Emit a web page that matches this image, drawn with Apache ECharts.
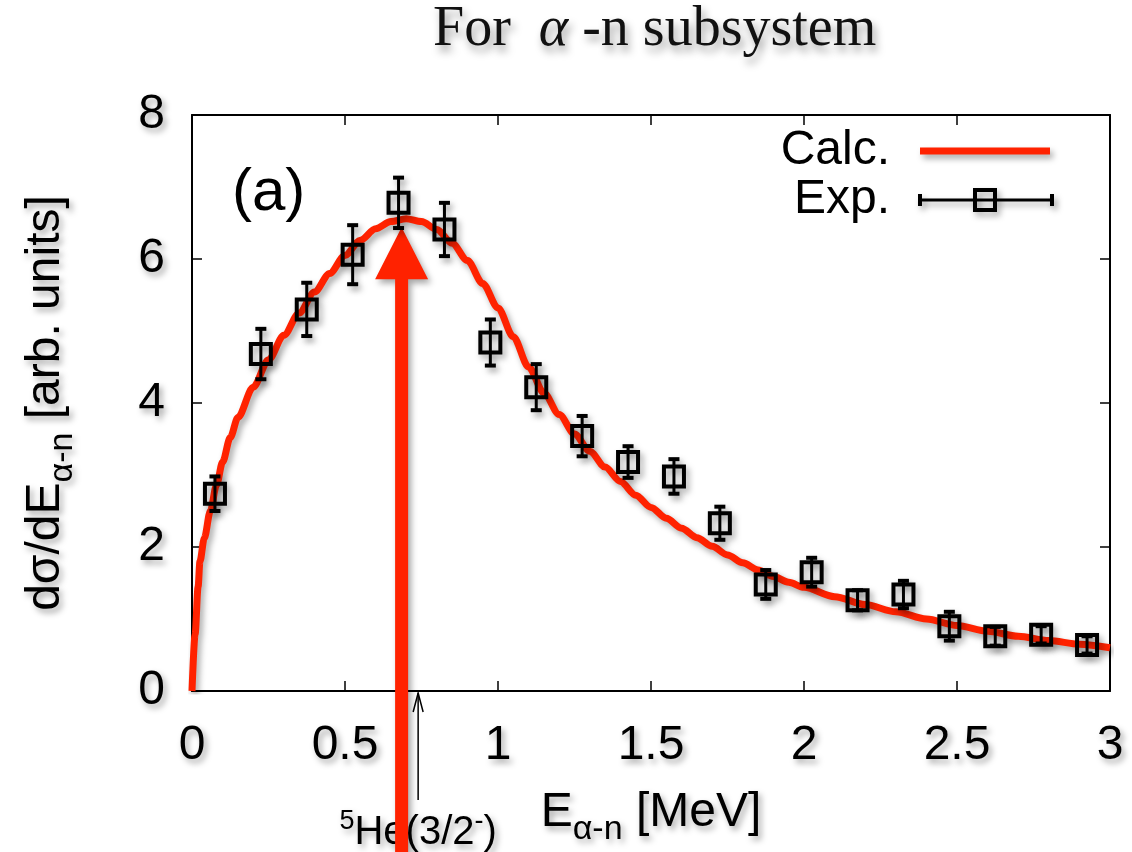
<!DOCTYPE html>
<html><head><meta charset="utf-8">
<script src="https://cdn.jsdelivr.net/npm/echarts@6/dist/echarts.min.js"></script>
<style>html,body{margin:0;padding:0;background:#fff}#c{width:1132px;height:852px}</style>
</head><body><div id="c"></div>
<script>
// ---- data ----
const expX   = [0.075, 0.225, 0.375, 0.525, 0.675, 0.825, 0.975, 1.125, 1.275, 1.425,
                1.575, 1.725, 1.875, 2.025, 2.175, 2.325, 2.475, 2.625, 2.775, 2.925];
const expY   = [2.74, 4.68, 5.30, 6.06, 6.78, 6.41, 4.84, 4.22, 3.54, 3.18,
                2.98, 2.33, 1.48, 1.65, 1.26, 1.34, 0.90, 0.76, 0.78, 0.64];
const expErr = [0.24, 0.35, 0.37, 0.41, 0.35, 0.37, 0.32, 0.32, 0.28, 0.22,
                0.24, 0.23, 0.20, 0.20, 0.14, 0.19, 0.20, 0.13, 0.12, 0.12];
const calcX  = [0, 0.01, 0.02, 0.026, 0.04, 0.06, 0.08, 0.1, 0.125, 0.15, 0.2, 0.25, 0.3, 0.35, 0.4, 0.45,
                0.5, 0.55, 0.6, 0.65, 0.7, 0.75, 0.8, 0.85, 0.9, 0.95, 1.0, 1.05, 1.1, 1.15, 1.2,
                1.25, 1.3, 1.35, 1.4, 1.45, 1.5, 1.55, 1.6, 1.65, 1.7, 1.75, 1.8, 1.85, 1.9, 1.95, 2.0,
                2.1, 2.2, 2.3, 2.4, 2.5, 2.6, 2.7, 2.8, 2.9, 3.0];
const calcY  = [0, 0.78, 1.45, 1.8, 2.12, 2.5, 2.86, 3.18, 3.52, 3.80, 4.22, 4.60, 4.94, 5.25, 5.54, 5.80,
                6.05, 6.26, 6.42, 6.52, 6.56, 6.52, 6.41, 6.22, 5.98, 5.66, 5.32, 4.92, 4.50, 4.14, 3.84,
                3.57, 3.33, 3.11, 2.91, 2.72, 2.55, 2.40, 2.26, 2.13, 2.01, 1.89, 1.78, 1.68, 1.59, 1.51, 1.44,
                1.31, 1.20, 1.10, 1.00, 0.91, 0.83, 0.76, 0.70, 0.65, 0.60];
// annotation positions (data units)
const peakArrow = [0.685, 6.44, 5.72];   // x, tip y, head-base y
const resonanceX = 0.739;                 // 5He(3/2-) marker
const xRange = [0, 3, 0.5];
const yRange = [0, 8, 2];

const RED = '#ff2200';
const FONT = 'Liberation Sans';
const SH = {shadowColor:'rgba(0,0,0,0.35)', shadowBlur:6, shadowOffsetX:3, shadowOffsetY:4};
const TSH = {textShadowColor:'rgba(0,0,0,0.35)', textShadowBlur:6, textShadowOffsetX:3, textShadowOffsetY:4};

const chart = echarts.init(document.getElementById('c'), null, {width:1132, height:852});

function frameAxis(extra){
  return Object.assign({
    type:'value', splitLine:{show:false},
    axisLine:{show:true, onZero:false, lineStyle:{color:'#000', width:2}},
    axisTick:{show:true, inside:true, length:10, lineStyle:{color:'#000', width:1.5}},
  }, extra);
}

const subRich = {
  m:{fontFamily:FONT, fontSize:48, color:'#000', verticalAlign:'bottom', lineHeight:56, padding:[0,0,10,0], ...TSH},
  s:{fontFamily:FONT, fontSize:34, color:'#000', verticalAlign:'bottom', lineHeight:40, padding:[0,0,0,0], ...TSH}
};
const titleStyle = {fontFamily:'Liberation Serif', fontWeight:'normal', fontSize:56, color:'#111', ...TSH,
  textShadowColor:'rgba(0,0,0,0.4)', textShadowBlur:8, textShadowOffsetY:6};

const option = {
  animation:false,
  backgroundColor:'#fff',
  title:{
    text:'{n|For  }{a|α}{n| -n subsystem}',
    left:428, top:-3,
    textStyle:{fontWeight:'normal', rich:{
      n:titleStyle,
      a:Object.assign({}, titleStyle, {fontStyle:'italic'})
    }}
  },
  grid:{left:192, right:22, top:115, bottom:159},
  xAxis:[
    frameAxis({min:xRange[0], max:xRange[1], interval:xRange[2], position:'bottom',
      axisLabel:{fontFamily:FONT, fontSize:48, color:'#000', margin:31, ...TSH},
      name:'{m|E}{s|α-n}{m| [MeV]}', nameLocation:'middle', nameGap:100,
      nameTextStyle:{rich:subRich}}),
    frameAxis({min:xRange[0], max:xRange[1], interval:xRange[2], position:'top', axisLabel:{show:false}})
  ],
  yAxis:[
    frameAxis({min:yRange[0], max:yRange[1], interval:yRange[2], position:'left',
      axisLabel:{fontFamily:FONT, fontSize:48, color:'#000', margin:27, ...TSH},
      name:'{m|dσ/dE}{s|α-n}{m| [arb. units]}', nameLocation:'middle', nameGap:112, nameRotate:90,
      nameTextStyle:{rich:subRich}}),
    frameAxis({min:yRange[0], max:yRange[1], interval:yRange[2], position:'right', axisLabel:{show:false}})
  ],
  graphic:[
    {type:'text', z:20, style:{x:232, y:193, text:'(a)', font:'60px "Liberation Sans"', fill:'#000', textVerticalAlign:'middle', verticalAlign:'middle', ...SH}},
    {type:'text', z:20, style:{x:890, y:151, text:'Calc.', font:'48px "Liberation Sans"', fill:'#000', textAlign:'right', align:'right', textVerticalAlign:'middle', verticalAlign:'middle', ...SH}},
    {type:'line', z:20, shape:{x1:920, y1:151, x2:1050, y2:151}, style:{stroke:RED, lineWidth:7, ...SH}},
    {type:'text', z:20, style:{x:890, y:200, text:'Exp.', font:'48px "Liberation Sans"', fill:'#000', textAlign:'right', align:'right', textVerticalAlign:'middle', verticalAlign:'middle', ...SH}},
    {type:'line', z:20, shape:{x1:920, y1:200, x2:1052, y2:200}, style:{stroke:'#000', lineWidth:3, ...SH}},
    {type:'line', z:20, shape:{x1:920, y1:194, x2:920, y2:206}, style:{stroke:'#000', lineWidth:4, ...SH}},
    {type:'line', z:20, shape:{x1:1052, y1:194, x2:1052, y2:206}, style:{stroke:'#000', lineWidth:4, ...SH}},
    {type:'rect', z:20, shape:{x:975, y:190, width:20, height:20}, style:{fill:'none', stroke:'#000', lineWidth:4, ...SH}}
  ],
  series:[
    {
      name:'Calc.', type:'line', z:2, xAxisIndex:0, yAxisIndex:0,
      data: calcX.map((x,i)=>[x, calcY[i]]),
      showSymbol:false, smooth:0.3, smoothMonotone:'x', clip:true,
      lineStyle:{color:RED, width:7, ...SH}
    },
    {
      name:'resonance', type:'custom', z:1, clip:false,
      data:[[resonanceX, 0]],
      renderItem:(params, api)=>{
        const p = api.coord([api.value(0), api.value(1)]);
        const st = {stroke:'#000', lineWidth:1.5, fill:'none'};
        return {type:'group', children:[
          {type:'line', shape:{x1:p[0], y1:p[1]+109, x2:p[0], y2:p[1]+2}, style:st},
          {type:'polyline', shape:{points:[[p[0]-5, p[1]+21],[p[0], p[1]+2],[p[0]+5, p[1]+21]]}, style:st},
          {type:'text', style:{x:p[0], y:p[1]+139, text:'{p|5}{m|He(3/2}{p|-}{m|)}', align:'center', verticalAlign:'middle',
            textAlign:'center', textVerticalAlign:'middle',
            rich:{
              m:{fontFamily:FONT, fontSize:40, fill:'#000', color:'#000', verticalAlign:'bottom', lineHeight:46, ...TSH},
              p:{fontFamily:FONT, fontSize:27, fill:'#000', color:'#000', verticalAlign:'bottom', lineHeight:46, padding:[0,0,18,0], ...TSH}
            }}}
        ]};
      }
    },
    {
      name:'arrow', type:'custom', z:3, clip:false,
      data:[peakArrow],
      renderItem:(params, api)=>{
        const x = api.value(0);
        const tip = api.coord([x, api.value(1)]);
        const base = api.coord([x, api.value(2)]);
        const H = api.getHeight() + 10;
        const cx = tip[0], hw = 6.5, hh = 26.5;
        return {type:'polygon', shape:{points:[
          [cx-hw, H],[cx-hw, base[1]],[cx-hh, base[1]],[cx, tip[1]],[cx+hh, base[1]],[cx+hw, base[1]],[cx+hw, H]
        ]}, style:{fill:RED, ...SH}};
      }
    },
    {
      name:'Exp.', type:'custom', z:4, clip:false,
      data: expX.map((x,i)=>[x, expY[i], expErr[i]]),
      encode:{x:0, y:1},
      renderItem:(params, api)=>{
        const x = api.value(0), y = api.value(1), e = api.value(2);
        const c = api.coord([x, y]), t = api.coord([x, y+e]), b = api.coord([x, y-e]);
        const cap = 5.5, h = 10;
        const ln = {stroke:'#000', lineWidth:3, ...SH};
        const lc = {stroke:'#000', lineWidth:4, ...SH};
        return {type:'group', children:[
          {type:'line', shape:{x1:c[0], y1:t[1], x2:c[0], y2:b[1]}, style:ln},
          {type:'line', shape:{x1:c[0]-cap, y1:t[1], x2:c[0]+cap, y2:t[1]}, style:lc},
          {type:'line', shape:{x1:c[0]-cap, y1:b[1], x2:c[0]+cap, y2:b[1]}, style:lc},
          {type:'rect', shape:{x:c[0]-h, y:c[1]-h, width:2*h, height:2*h}, style:{fill:'none', stroke:'#000', lineWidth:4, ...SH}}
        ]};
      }
    }
  ]
};
chart.setOption(option);
</script>
</body></html>
